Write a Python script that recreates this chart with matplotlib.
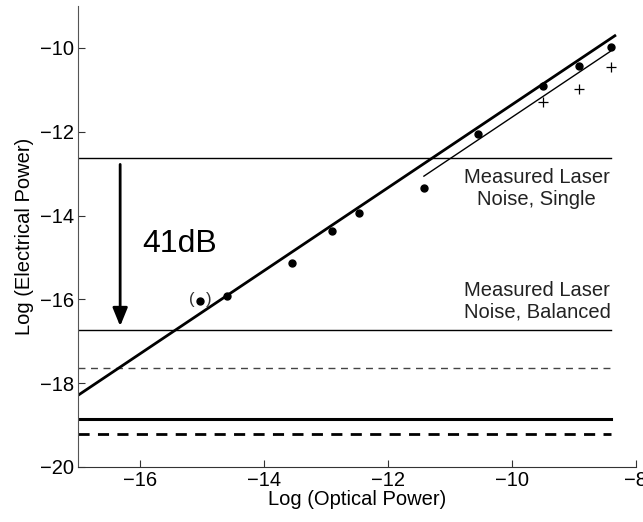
import matplotlib
matplotlib.use("Agg")
import matplotlib.pyplot as plt
import numpy as np

plt.rcParams['font.family'] = ['Liberation Sans', 'DejaVu Sans']

# measured points (log optical power, log electrical power)
dot_x = [-15.04, -14.59, -13.55, -12.90, -12.47, -11.42, -10.55, -9.50, -8.92, -8.41]
dot_y = [-16.03, -15.92, -15.13, -14.38, -13.93, -13.35, -12.05, -10.90, -10.44, -9.98]
plus_x = [-9.50, -8.92, -8.41]
plus_y = [-11.30, -10.99, -10.46]

# fitted lines (slope ~1)
fit_x = [-17.0, -8.34]
fit_y = [-18.29, -9.71]
fit2_x = [-11.42, -8.41]
fit2_y = [-13.06, -10.08]

# horizontal noise levels
single_level = -12.62
balanced_level = -16.73
dashed_thin_level = -17.65
thick_level = -18.85
dashed_thick_level = -19.22
level_x = [-17.0, -8.41]

fig = plt.figure(figsize=(6.43, 5.22), dpi=100)
ax = fig.add_axes([0.1213, 0.1054, 0.8677, 0.8831])

ax.plot(level_x, [single_level] * 2, color='black', lw=1.0)
ax.plot(level_x, [balanced_level] * 2, color='black', lw=1.0)
ax.plot(level_x, [dashed_thin_level] * 2, color='#444444', lw=1.0, dashes=(5, 4))
ax.plot(level_x, [thick_level] * 2, color='black', lw=2.2)
ax.plot(level_x, [dashed_thick_level] * 2, color='black', lw=2.0, dashes=(4, 3))

ax.plot(fit_x, fit_y, color='black', lw=2.0)
ax.plot(fit2_x, fit2_y, color='black', lw=1.0)

ax.plot(dot_x, dot_y, 'o', color='black', ms=5)
ax.plot(plus_x, plus_y, '+', color='black', ms=7, mew=0.9)

# bracket around the doubtful point
ax.text(-15.17, -16.0, '(', ha='center', va='center', fontsize=12, color='#333333')
ax.text(-14.89, -16.0, ')', ha='center', va='center', fontsize=12, color='#333333')

# 41 dB arrow
ax.annotate('', xy=(-16.32, -16.64), xytext=(-16.32, -12.78),
            arrowprops=dict(arrowstyle='-|>,head_width=0.45,head_length=1.1',
                            color='black', lw=2.0, shrinkA=0, shrinkB=0))
ax.text(-15.36, -14.69, '41dB', ha='center', va='center', fontsize=23)

ax.text(-9.60, -13.36, 'Measured Laser\nNoise, Single', ha='center', va='center',
        fontsize=14.5, color='#222222', linespacing=1.2)
ax.text(-9.59, -16.04, 'Measured Laser\nNoise, Balanced', ha='center', va='center',
        fontsize=14.5, color='#222222', linespacing=1.2)

ax.set_xlim(-17, -8)
ax.set_ylim(-20, -9)
ax.set_xticks([-16, -14, -12, -10, -8])
ax.set_yticks([-20, -18, -16, -14, -12, -10])
ax.set_xticklabels(['\u221216', '\u221214', '\u221212', '\u221210', '\u22128'])
ax.set_yticklabels(['\u221220', '\u221218', '\u221216', '\u221214', '\u221212', '\u221210'])
ax.tick_params(direction='in', length=5, labelsize=14.5, colors='#333333', labelcolor='black', pad=3)

ax.spines['right'].set_visible(False)
ax.spines['top'].set_visible(False)
ax.spines['left'].set_color('#555555')
ax.spines['bottom'].set_color('#333333')

ax.set_xlabel('Log (Optical Power)', fontsize=14.5, labelpad=0)
ax.set_ylabel('Log (Electrical Power)', fontsize=14.5, labelpad=4)

fig.savefig('out.png', dpi=100)
